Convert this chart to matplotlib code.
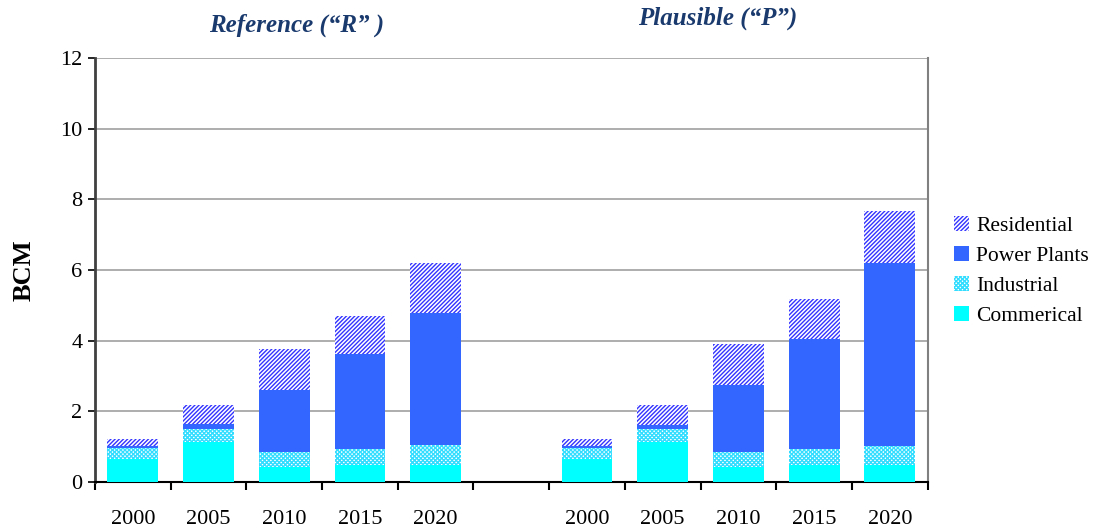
import numpy as np
import matplotlib.pyplot as plt

years = ['2000', '2005', '2010', '2015', '2020']

# stacked segment values (BCM)
ref_commercial  = [0.65, 1.14, 0.43, 0.48, 0.48]
ref_industrial  = [0.31, 0.36, 0.43, 0.45, 0.57]
ref_power       = [0.06, 0.15, 1.74, 2.70, 3.74]
ref_residential = [0.20, 0.53, 1.16, 1.07, 1.41]

pl_commercial  = [0.65, 1.14, 0.43, 0.48, 0.48]
pl_industrial  = [0.31, 0.36, 0.43, 0.45, 0.54]
pl_power       = [0.06, 0.11, 1.89, 3.12, 5.18]
pl_residential = [0.20, 0.57, 1.15, 1.13, 1.47]

plt.rcParams['font.family'] = ['Liberation Serif', 'DejaVu Serif']
plt.rcParams['hatch.linewidth'] = 1.0

fig = plt.figure(figsize=(10.94, 5.31), dpi=100)
ax = fig.add_axes([0.0868, 0.0923, 0.848 - 0.0868, 0.8908 - 0.0923])

x_ref = np.arange(5)
x_pl = np.arange(6, 11)
w = 0.67

series = [
    ('Commerical', ref_commercial, pl_commercial, dict(color='#00ffff')),
    ('Industrial', ref_industrial, pl_industrial,
     dict(facecolor='white', edgecolor='#33ddff', hatch='xxxxxxxx', linewidth=0)),
    ('Power Plants', ref_power, pl_power, dict(color='#3366ff')),
    ('Residential', ref_residential, pl_residential,
     dict(facecolor='white', edgecolor='#3333ff', hatch='////////', linewidth=0)),
]

bot_r = np.zeros(5)
bot_p = np.zeros(5)
handles = []
for name, rv, pv, style in series:
    h = ax.bar(x_ref, rv, w, bottom=bot_r, label=name, zorder=3, **style)
    ax.bar(x_pl, pv, w, bottom=bot_p, zorder=3, **style)
    bot_r += np.array(rv)
    bot_p += np.array(pv)
    handles.append(h)

ax.set_xlim(-0.5, 10.5)
ax.set_ylim(0, 12)
ax.set_yticks(np.arange(0, 13, 2))
ax.yaxis.grid(True, color='#a0a0a0', linewidth=1.2, zorder=0)
ax.tick_params(axis='y', labelsize=16, length=5, width=1.2, direction='out', pad=4)

ax.set_xticks(list(x_ref) + list(x_pl))
ax.set_xticklabels(years + years)
ax.set_xticks(np.arange(-0.5, 11, 1), minor=True)
ax.tick_params(axis='x', which='major', length=0, pad=20, labelsize=16)
ax.tick_params(axis='x', which='minor', length=6, width=1.5, direction='out')

ax.spines['top'].set_visible(False)
ax.spines['left'].set_color('#404040')
ax.spines['left'].set_linewidth(2)
ax.spines['bottom'].set_linewidth(1.5)
ax.spines['right'].set_color('#808080')
ax.spines['right'].set_linewidth(1.5)

ax.set_ylabel('BCM', fontsize=19, fontweight='bold', labelpad=18)

title_kw = dict(fontsize=18, fontweight='bold', style='italic', color='#1a3a6e', ha='center')
fig.text(297 / 1094, 1 - 25 / 531, 'Reference (\u201cR\u201d )', va='center', **title_kw)
fig.text(718 / 1094, 1 - 18 / 531, 'Plausible (\u201cP\u201d)', va='center', **title_kw)

ax.legend(handles[::-1], [s[0] for s in series][::-1], loc='upper left',
          bbox_to_anchor=(0.862, 0.613), bbox_transform=fig.transFigure,
          frameon=False, fontsize=15.5, handlelength=0.7, handleheight=0.7,
          handletextpad=0.35, labelspacing=0.45, borderpad=0)

fig.savefig('out.png', dpi=100)
